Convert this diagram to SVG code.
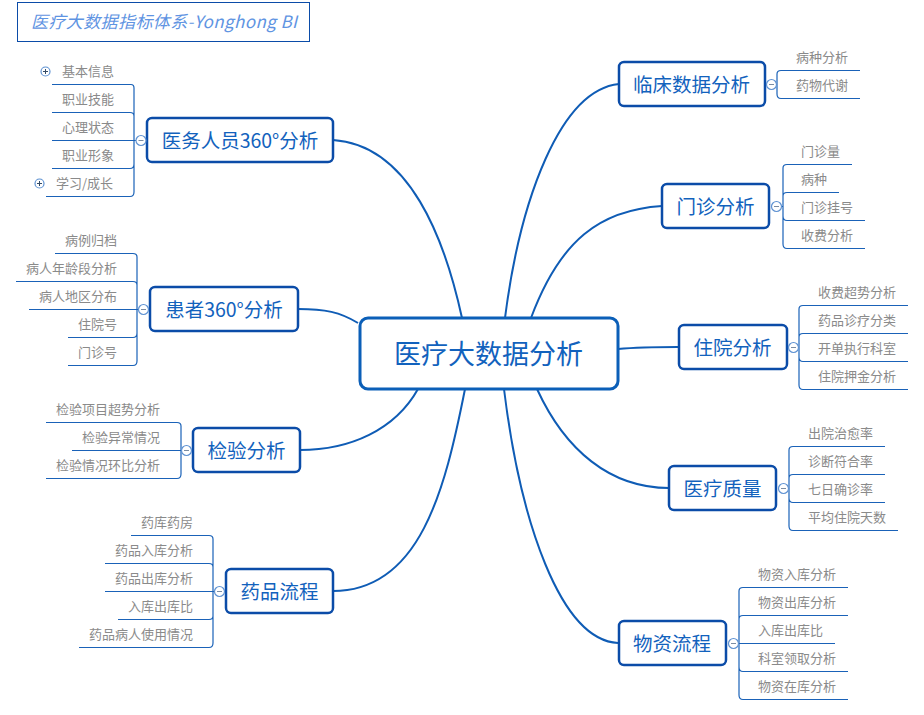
<svg xmlns="http://www.w3.org/2000/svg" width="924" height="715" viewBox="0 0 924 715">
<style>
text{font-family:"Noto Sans CJK SC","Noto Sans",sans-serif}
.b{fill:none;stroke:#0f5cb5;stroke-width:2}
.l{fill:none;stroke:#1a62b8;stroke-width:1.2}
.n rect{fill:#fff;stroke:#0b4ca8;stroke-width:2.5}
.n text{fill:#1262bd;font-size:19.5px;text-anchor:middle}
.t{fill:#8a8a8a;font-size:13px}
.e{text-anchor:end}
.c circle{fill:#fff;stroke:#5f92d2;stroke-width:1.2}
.c path{stroke:#7a8ca3;stroke-width:1;fill:none}
.p circle{fill:#fff;stroke:#5f92d2;stroke-width:1.2}
.p path{stroke:#334a66;stroke-width:1;fill:none}
</style>
<rect width="924" height="715" fill="#fff"/>
<g id="title"><rect x="17.5" y="2.5" width="292" height="39" fill="#fff" stroke="#0b4ca8" stroke-width="1"/><text x="31" y="28" font-size="17" font-style="italic" fill="#5f94e2" textLength="266">医疗大数据指标体系-Yonghong BI</text></g>
<g id="connectors">
<path class="b" d="M462 318C445 240 410 145 333 140"/>
<path class="b" d="M358 323C340 312 325 309 298 309"/>
<path class="b" d="M418 389C395 430 350 450 300 450"/>
<path class="b" d="M465 389C445 490 420 591 333 591"/>
<path class="b" d="M505 318C520 200 560 90 619 84"/>
<path class="b" d="M531 318C560 240 600 210 662 206"/>
<path class="b" d="M618 349C640 347 660 347 678 347"/>
<path class="b" d="M537 389C565 450 610 488 669 488"/>
<path class="b" d="M504 389C520 520 560 640 618 643"/>
<path class="l" d="M52 84.500H131Q134 84.500 134 88V192Q134 196.500 130 196.500H46M52 112.500H130Q134 112.500 134 116M52 140.500H136M52 168.500H130Q134 168.500 134 164"/>
<path class="l" d="M55 253.500H133Q137 253.500 137 257V361Q137 365.500 133 365.500H68M16 281.500H133Q137 281.500 137 285M29 309.500H139M68 337.500H133Q137 337.500 137 333"/>
<path class="l" d="M46 422.500H177Q181 422.500 181 426V474Q181 478.500 177 478.500H46M72 450.500H182"/>
<path class="l" d="M131 535.500H209Q213 535.500 213 539V643Q213 647.500 209 647.500H79M105 563.500H209Q213 563.500 213 567M105 591.500H215M118 619.500H209Q213 619.500 213 616"/>
<path class="l" d="M860 70.500H781Q777 70.500 777 74V94Q777 98.500 781 98.500H860M772 84.500H777"/>
<path class="l" d="M852 164.500H787Q783 164.500 783 168V244Q783 248.500 787 248.500H865M839 192.500H787Q783 192.500 783 196M865 220.500H787Q783 220.500 783 216M778 206.500H783"/>
<path class="l" d="M908 305.500H803Q799 305.500 799 309V385Q799 389.500 803 389.500H908M908 333.500H803Q799 333.500 799 337M908 361.500H803Q799 361.500 799 357M795 347.500H799"/>
<path class="l" d="M885 446.500H793Q789 446.500 789 450V526Q789 530.500 793 530.500H898M885 474.500H793Q789 474.500 789 478M885 502.500H793Q789 502.500 789 498M785 488.500H789"/>
<path class="l" d="M848 587.500H743Q739 587.500 739 591V695Q739 699.500 743 699.500H848M848 615.500H743Q739 615.500 739 619M835 643.500H735M848 671.500H743Q739 671.500 739 667"/>
</g>
<g id="center"><rect x="360" y="318" width="258" height="71" rx="8" fill="#fff" stroke="#0b5fb8" stroke-width="3"/><text x="488.500" y="364" font-size="27" fill="#1262bd" text-anchor="middle">医疗大数据分析</text></g>

<g id="n-staff" class="n"><rect x="147" y="118" width="186" height="44" rx="5"/><text x="240" y="148">医务人员360°分析</text></g>
<g id="n-patient" class="n"><rect x="150" y="287" width="148" height="44" rx="5"/><text x="224" y="317">患者360°分析</text></g>
<g id="n-lab" class="n"><rect x="193" y="428" width="107" height="44" rx="5"/><text x="246.500" y="458">检验分析</text></g>
<g id="n-drug" class="n"><rect x="226" y="569" width="107" height="44" rx="5"/><text x="279.500" y="599">药品流程</text></g>
<g id="n-clinical" class="n"><rect x="619" y="62" width="146" height="44" rx="5"/><text x="691.500" y="92">临床数据分析</text></g>
<g id="n-outpatient" class="n"><rect x="662" y="184" width="107" height="44" rx="5"/><text x="715.500" y="214">门诊分析</text></g>
<g id="n-inpatient" class="n"><rect x="679" y="325" width="108" height="44" rx="5"/><text x="732.500" y="355">住院分析</text></g>
<g id="n-quality" class="n"><rect x="669" y="466" width="107" height="44" rx="5"/><text x="722.500" y="496">医疗质量</text></g>
<g id="n-material" class="n"><rect x="619" y="621" width="107" height="44" rx="5"/><text x="672" y="651">物资流程</text></g>

<g id="toggles">
<g class="p"><circle cx="45.500" cy="71.500" r="4.500"/><path d="M43 71.500H48M45.500 69V74"/></g>
<g class="p"><circle cx="39.500" cy="183.500" r="4.500"/><path d="M37 183.500H42M39.500 181V186"/></g>
<g class="c"><circle cx="141" cy="140.500" r="5"/><path d="M138.500 140.500H143.500"/></g>
<g class="c"><circle cx="143.500" cy="309.500" r="5"/><path d="M141 309.500H146"/></g>
<g class="c"><circle cx="186.500" cy="450.500" r="5"/><path d="M184 450.500H189"/></g>
<g class="c"><circle cx="219.500" cy="591.500" r="5"/><path d="M217 591.500H222"/></g>
<g class="c"><circle cx="771.500" cy="84.500" r="5"/><path d="M769 84.500H774"/></g>
<g class="c"><circle cx="776.500" cy="206.500" r="5"/><path d="M774 206.500H779"/></g>
<g class="c"><circle cx="793.500" cy="347.500" r="5"/><path d="M791 347.500H796"/></g>
<g class="c"><circle cx="783.500" cy="488.500" r="5"/><path d="M781 488.500H786"/></g>
<g class="c"><circle cx="733.500" cy="643.500" r="5"/><path d="M731 643.500H736"/></g>
</g>

<g id="leaves-staff">
<text class="t" x="62" y="76">基本信息</text>
<text class="t" x="62" y="104">职业技能</text>
<text class="t" x="62" y="132">心理状态</text>
<text class="t" x="62" y="160">职业形象</text>
<text class="t" x="56" y="188">学习/成长</text>
</g>
<g id="leaves-patient">
<text class="t e" x="117" y="245">病例归档</text>
<text class="t e" x="117" y="273">病人年龄段分析</text>
<text class="t e" x="117" y="301">病人地区分布</text>
<text class="t e" x="117" y="329">住院号</text>
<text class="t e" x="117" y="357">门诊号</text>
</g>
<g id="leaves-lab">
<text class="t e" x="160" y="414">检验项目超势分析</text>
<text class="t e" x="160" y="442">检验异常情况</text>
<text class="t e" x="160" y="470">检验情况环比分析</text>
</g>
<g id="leaves-drug">
<text class="t e" x="193" y="527">药库药房</text>
<text class="t e" x="193" y="555">药品入库分析</text>
<text class="t e" x="193" y="583">药品出库分析</text>
<text class="t e" x="193" y="611">入库出库比</text>
<text class="t e" x="193" y="639">药品病人使用情况</text>
</g>
<g id="leaves-clinical">
<text class="t" x="796" y="62">病种分析</text>
<text class="t" x="796" y="90">药物代谢</text>
</g>
<g id="leaves-outpatient">
<text class="t" x="801" y="156">门诊量</text>
<text class="t" x="801" y="184">病种</text>
<text class="t" x="801" y="212">门诊挂号</text>
<text class="t" x="801" y="240">收费分析</text>
</g>
<g id="leaves-inpatient">
<text class="t" x="818" y="297">收费超势分析</text>
<text class="t" x="818" y="325">药品诊疗分类</text>
<text class="t" x="818" y="353">开单执行科室</text>
<text class="t" x="818" y="381">住院押金分析</text>
</g>
<g id="leaves-quality">
<text class="t" x="808" y="438">出院治愈率</text>
<text class="t" x="808" y="466">诊断符合率</text>
<text class="t" x="808" y="494">七日确诊率</text>
<text class="t" x="808" y="522">平均住院天数</text>
</g>
<g id="leaves-material">
<text class="t" x="758" y="579">物资入库分析</text>
<text class="t" x="758" y="607">物资出库分析</text>
<text class="t" x="758" y="635">入库出库比</text>
<text class="t" x="758" y="663">科室领取分析</text>
<text class="t" x="758" y="691">物资在库分析</text>
</g>
</svg>
